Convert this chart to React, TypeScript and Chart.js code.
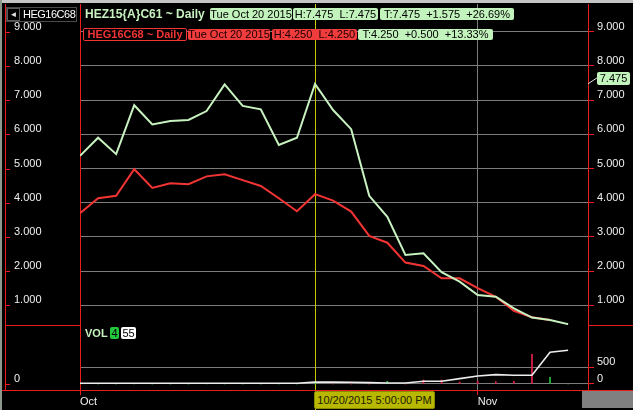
import { useEffect, useRef } from 'react'
import { Chart, registerables } from 'chart.js'
import type { Plugin, Scale } from 'chart.js'

Chart.register(...registerables)

// trading days shown on the chart
const DATES = [
  '2015-10-01', '2015-10-02', '2015-10-05', '2015-10-06', '2015-10-07',
  '2015-10-08', '2015-10-09', '2015-10-12', '2015-10-13', '2015-10-14',
  '2015-10-15', '2015-10-16', '2015-10-19', '2015-10-20', '2015-10-21',
  '2015-10-22', '2015-10-23', '2015-10-26', '2015-10-27', '2015-10-28',
  '2015-10-29', '2015-10-30', '2015-11-02', '2015-11-03', '2015-11-04',
  '2015-11-05', '2015-11-06', '2015-11-09',
]

// HEZ15{A}C61 daily close
const HEZ15 = [
  5.37, 5.9, 5.42, 6.85, 6.29, 6.39, 6.42, 6.68, 7.46, 6.83, 6.73, 5.69, 5.9,
  7.475, 6.71, 6.15, 4.2, 3.59, 2.47, 2.52, 1.97, 1.69, 1.3, 1.25, 0.91, 0.64,
  0.57, 0.45,
]

// HEG16C68 daily close
const HEG16 = [
  3.69, 4.13, 4.2, 4.98, 4.43, 4.57, 4.54, 4.77, 4.83, 4.66, 4.49, 4.13, 3.75,
  4.25, 4.06, 3.74, 3.03, 2.83, 2.25, 2.15, 1.79, 1.79, 1.5, 1.25, 0.84, 0.65,
  0.57,
]

const VOLUME = [
  0, 0, 0, 3, 0, 0, 0, 3, 2, 0, 0, 0, 3, 4, 0, 0, 0, 80, 0, 120, 120, 60, 80,
  70, 80, 890, 200, 0,
]
const VOL_SIDE = [
  'u', 'u', 'u', 'u', 'u', 'u', 'u', 'u', 'u', 'u', 'u', 'u', 'u', 'u', 'd',
  'd', 'd', 'u', 'd', 'd', 'd', 'd', 'd', 'd', 'd', 'd', 'u', 'u',
]
const OPEN_INT = [
  20, 20, 20, 20, 20, 20, 20, 20, 20, 20, 20, 20, 20, 55, 60, 50, 40, 30, 30,
  80, 80, 160, 240, 280, 260, 260, 950, 1010,
]

const PRICE_TICKS = [1, 2, 3, 4, 5, 6, 7, 8, 9]
const VOL_TICKS = [0, 500]
const VOL_TICKS_LEFT = [0]
const MONTHS = ['Jan', 'Feb', 'Mar', 'Apr', 'May', 'Jun', 'Jul', 'Aug', 'Sep', 'Oct', 'Nov', 'Dec']
const CROSS_INDEX = 13

const monthTicks = DATES.map((d, i) => ({ i, m: Number(d.slice(5, 7)) - 1 })).filter(
  (t, i, a) => i === 0 || t.m !== a[i - 1].m
)

const RED = '#ee1c1c'
const GRID = '#7c7c7c'
const TXT = '#f0f0f0'
const PALE = '#c3f3bd'
const LINE_GREEN = '#c8f2c0'
const LINE_RED = '#f23434'
const YELLOW = '#c8c800'
const FAMILY = "'Liberation Sans', Arial, sans-serif"
const FONT = { family: FAMILY, size: 11 }

const fixWidth = (w: number) => (s: Scale) => {
  s.width = w
  s.paddingTop = 0
  s.paddingBottom = 0
}
const setTicks = (vals: number[]) => (s: Scale) => {
  s.ticks = vals.map((value) => ({ value }))
}

const frame: Plugin = {
  id: 'frame',
  beforeDatasetsDraw(chart) {
    const { ctx, chartArea, scales } = chart
    const x = Math.round(scales.x.getPixelForValue(CROSS_INDEX)) + 0.5
    ctx.save()
    ctx.strokeStyle = YELLOW
    ctx.lineWidth = 1
    ctx.beginPath()
    ctx.moveTo(x, chartArea.top)
    ctx.lineTo(x, chart.height)
    ctx.stroke()
    ctx.restore()
  },
  afterDraw(chart) {
    const { ctx, chartArea, scales } = chart
    ctx.save()
    ctx.strokeStyle = RED
    ctx.lineWidth = 1
    ctx.beginPath()
    ctx.moveTo(5.5, chartArea.top)
    ctx.lineTo(5.5, chartArea.bottom)
    const sep = Math.round(scales.vol.top) + 0.5
    ctx.moveTo(5, sep)
    ctx.lineTo(chartArea.left, sep)
    ctx.moveTo(chartArea.right, sep)
    ctx.lineTo(chart.width, sep)
    const b = Math.round(chartArea.bottom) + 0.5
    ctx.moveTo(0, b)
    ctx.lineTo(chart.width, b)
    for (const id of ['yL', 'volL']) {
      const s = scales[id]
      for (const t of s.ticks) {
        const y = Math.round(s.getPixelForValue(t.value)) + 0.5
        ctx.moveTo(5, y)
        ctx.lineTo(10, y)
      }
    }
    ctx.stroke()
    const my = scales.y.getPixelForValue(HEZ15[CROSS_INDEX])
    ctx.strokeStyle = '#e0e0e0'
    ctx.beginPath()
    ctx.moveTo(chartArea.right, my)
    ctx.lineTo(chartArea.right + 9, my - 6)
    ctx.stroke()
    ctx.restore()
  },
}

function Box(props: {
  left: number
  top: number
  width: number
  height: number
  bg: string
  color: string
  border?: string
  bold?: boolean
  children: React.ReactNode
}) {
  return (
    <div
      style={{
        position: 'absolute',
        left: props.left,
        top: props.top,
        width: props.width,
        height: props.height,
        background: props.bg,
        color: props.color,
        border: props.border,
        boxSizing: 'border-box',
        borderRadius: 2,
        fontSize: 11,
        fontWeight: props.bold ? 'bold' : 'normal',
        lineHeight: `${props.height - (props.border ? 2 : 0)}px`,
        textAlign: 'center',
        whiteSpace: 'pre',
        overflow: 'hidden',
      }}
    >
      {props.children}
    </div>
  )
}

export default function App() {
  const ref = useRef<HTMLCanvasElement>(null)

  useEffect(() => {
    if (!ref.current) return
    const chart = new Chart(ref.current, {
      type: 'line',
      data: {
        datasets: [
          {
            label: 'HEZ15{A}C61',
            data: HEZ15.map((y, i) => ({ x: i, y })),
            yAxisID: 'y',
            borderColor: LINE_GREEN,
            borderWidth: 2,
            pointRadius: 0,
            tension: 0,
          },
          {
            label: 'HEG16C68',
            data: HEG16.map((y, i) => ({ x: i, y })),
            yAxisID: 'y',
            borderColor: LINE_RED,
            borderWidth: 2,
            pointRadius: 0,
            tension: 0,
          },
          {
            label: 'OI',
            data: OPEN_INT.map((y, i) => ({ x: i, y })),
            yAxisID: 'vol',
            borderColor: '#ededed',
            borderWidth: 1.6,
            pointRadius: 0,
            tension: 0,
          },
          {
            type: 'bar',
            label: 'VOL',
            data: VOLUME.map((y, i) => ({ x: i, y })),
            yAxisID: 'vol',
            backgroundColor: VOL_SIDE.map((s) => (s === 'u' ? '#22c83c' : '#e8204c')),
            barThickness: 1,
          },
        ],
      },
      options: {
        responsive: false,
        animation: false,
        events: [],
        layout: { padding: { left: 14, right: 0, top: 4, bottom: 0 } },
        plugins: { legend: { display: false }, tooltip: { enabled: false } },
        scales: {
          x: {
            type: 'linear',
            min: 0,
            max: 28.1,
            offset: false,
            afterBuildTicks: (s: Scale) => {
              s.ticks = monthTicks.map((t) => ({ value: t.i }))
            },
            ticks: {
              callback: (v) => MONTHS[monthTicks.find((t) => t.i === v)?.m ?? 0],
              align: 'start',
              padding: 0,
              maxRotation: 0,
              autoSkip: false,
              color: TXT,
              font: FONT,
            },
            grid: { color: GRID, tickColor: RED, tickLength: 5, offset: false },
            border: { color: RED },
            afterFit: (s: Scale) => {
              s.height = 20
              s.paddingLeft = 0
              s.paddingRight = 0
            },
          },
          y: {
            type: 'linear',
            position: 'right',
            stack: 'R',
            stackWeight: 321,
            min: 0.424,
            max: 9.81,
            afterBuildTicks: setTicks(PRICE_TICKS),
            ticks: {
              callback: (v) => Number(v).toFixed(3),
              padding: 3,
              labelOffset: -5,
              color: TXT,
              font: FONT,
            },
            grid: { color: GRID, tickColor: RED, tickLength: 6 },
            border: { color: RED },
            afterFit: fixWidth(45),
          },
          vol: {
            type: 'linear',
            position: 'right',
            stack: 'R',
            stackWeight: 65,
            min: -180,
            max: 1766,
            afterBuildTicks: setTicks(VOL_TICKS),
            ticks: {
              callback: (v) => String(v),
              padding: 3,
              labelOffset: -5,
              color: TXT,
              font: FONT,
            },
            grid: { color: GRID, tickColor: RED, tickLength: 6 },
            border: { color: RED },
            afterFit: fixWidth(45),
          },
          volL: {
            type: 'linear',
            position: 'left',
            stack: 'L',
            stackWeight: 65,
            min: -180,
            max: 1766,
            afterBuildTicks: setTicks(VOL_TICKS_LEFT),
            ticks: {
              callback: (v) => String(v),
              crossAlign: 'far',
              labelOffset: -5,
              color: TXT,
              font: FONT,
            },
            grid: { display: false, drawTicks: false },
            border: { color: RED },
            afterFit: fixWidth(66),
          },
          yL: {
            type: 'linear',
            position: 'left',
            stack: 'L',
            stackWeight: 321,
            min: 0.424,
            max: 9.81,
            afterBuildTicks: setTicks(PRICE_TICKS),
            ticks: {
              callback: (v) => Number(v).toFixed(3),
              crossAlign: 'far',
              labelOffset: -5,
              color: TXT,
              font: FONT,
            },
            grid: { display: false, drawTicks: false },
            border: { color: RED },
            afterFit: fixWidth(66),
          },
        },
      },
      plugins: [frame],
    })
    return () => chart.destroy()
  }, [])

  return (
    <div
      style={{
        position: 'fixed',
        left: 0,
        top: 0,
        width: 633,
        height: 410,
        background: '#000',
        overflow: 'hidden',
        fontFamily: FAMILY,
      }}
    >
      <canvas ref={ref} width={633} height={410} style={{ position: 'absolute', left: 0, top: 0 }} />
      <div style={{ position: 'absolute', left: 0, top: 0, width: 633, height: 3, background: '#c4c4c4' }} />
      <div style={{ position: 'absolute', left: 0, top: 0, width: 2, height: 410, background: '#8c988c' }} />

      {/* symbol selector */}
      <div
        style={{
          position: 'absolute',
          left: 6,
          top: 7,
          width: 71,
          height: 15,
          border: '1px solid #4a4a4a',
          boxSizing: 'border-box',
          background: '#000',
        }}
      />
      <div
        style={{
          position: 'absolute',
          left: 7,
          top: 8,
          width: 13,
          height: 13,
          border: '1px solid #5a5a5a',
          boxSizing: 'border-box',
          color: '#e0e0e0',
          fontSize: 8,
          lineHeight: '11px',
          textAlign: 'center',
        }}
      >
        ◄
      </div>
      <div
        style={{
          position: 'absolute',
          left: 23,
          top: 7,
          color: '#fff',
          fontSize: 11,
          letterSpacing: -0.5,
          lineHeight: '15px',
        }}
      >
        HEG16C68
      </div>

      {/* legend row 1 */}
      <div
        style={{
          position: 'absolute',
          left: 85,
          top: 7,
          color: LINE_GREEN,
          fontSize: 12,
          fontWeight: 'bold',
          lineHeight: '14px',
        }}
      >
        HEZ15{'{'}A{'}'}C61 ~ Daily
      </div>
      <Box left={210} top={8} width={82} height={12} bg={PALE} color="#000">
        Tue Oct 20 2015
      </Box>
      <Box left={293} top={8} width={85} height={12} bg={PALE} color="#000">
        H:7.475  L:7.475
      </Box>
      <Box left={380} top={8} width={134} height={12} bg={PALE} color="#000">
        T:7.475  +1.575  +26.69%
      </Box>

      {/* legend row 2 */}
      <Box left={83} top={28} width={104} height={13} bg="#000" color={LINE_RED} border={`1px solid ${LINE_RED}`} bold>
        HEG16C68 ~ Daily
      </Box>
      <Box left={188} top={29} width={82} height={11} bg="#f03c3c" color="#1a0000">
        Tue Oct 20 2015
      </Box>
      <Box left={272} top={29} width={85} height={11} bg="#f03c3c" color="#1a0000">
        H:4.250  L:4.250
      </Box>
      <Box left={358} top={29} width={135} height={11} bg={PALE} color="#000">
        T:4.250  +0.500  +13.33%
      </Box>

      {/* crosshair value on right axis */}
      <Box left={597} top={72} width={33} height={13} bg={PALE} color="#000">
        7.475
      </Box>

      {/* volume header */}
      <div
        style={{
          position: 'absolute',
          left: 85,
          top: 327,
          color: LINE_GREEN,
          fontSize: 11,
          fontWeight: 'bold',
          lineHeight: '13px',
        }}
      >
        VOL
      </div>
      <Box left={110} top={327} width={9} height={12} bg="#22c83c" color="#000">
        4
      </Box>
      <Box left={121} top={327} width={15} height={12} bg="#fff" color="#000">
        55
      </Box>

      {/* crosshair date */}
      <Box left={314} top={391} width={121} height={18} bg="#b8b800" color="#202000" border="1px solid #8a8a00">
        10/20/2015 5:00:00 PM
      </Box>
      <div style={{ position: 'absolute', left: 582, top: 391, width: 51, height: 17, background: '#808080' }} />
    </div>
  )
}
